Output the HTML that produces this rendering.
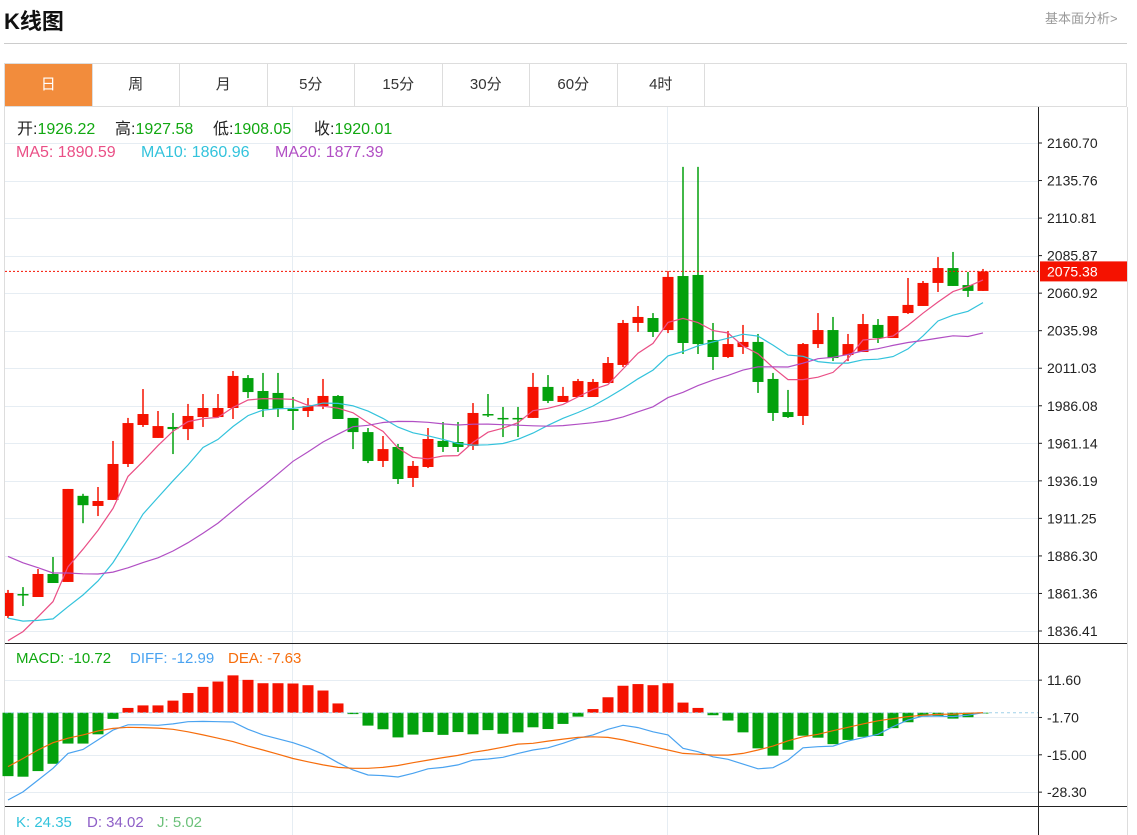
<!DOCTYPE html>
<html><head><meta charset="utf-8">
<style>
html,body{margin:0;padding:0;background:#fff;width:1137px;height:835px;overflow:hidden;font-family:"Liberation Sans","Noto Sans CJK SC",sans-serif;}
.title{position:absolute;left:4px;top:4px;font-size:22px;font-weight:bold;color:#111;}
.more{position:absolute;left:1045px;top:8px;font-size:13px;color:#999;}
.hr{position:absolute;left:4px;top:43px;width:1123px;height:1px;background:#ccc;}
.tabs{position:absolute;left:4px;top:63px;width:1123px;height:44px;border:1px solid #ddd;box-sizing:border-box;display:flex;}
.tab{width:87.5px;height:42px;line-height:42px;text-align:center;font-size:15px;color:#333;border-right:1px solid #ddd;box-sizing:border-box;}
.tab.on{background:#f28c3c;color:#fff;}
svg{position:absolute;left:0;top:0;}
</style></head><body>
<div class="title">K线图</div>
<div class="more">基本面分析&gt;</div>
<div class="hr"></div>
<div class="tabs">
<div class="tab on">日</div>
<div class="tab">周</div>
<div class="tab">月</div>
<div class="tab">5分</div>
<div class="tab">15分</div>
<div class="tab">30分</div>
<div class="tab">60分</div>
<div class="tab">4时</div>
</div>
<svg id="chart" width="1137" height="835" font-family="Liberation Sans, Noto Sans CJK SC, sans-serif"></svg>
<script>
const opens=[1846.4,1861.0,1859.0,1874.3,1869.0,1926.22,1919.5,1923.5,1947.4,1973.3,1964.7,1972.0,1970.6,1978.6,1978.6,1984.6,2004.5,1995.9,1994.6,1983.9,1982.6,1985.9,1992.6,1978.0,1968.6,1949.4,1958.7,1938.1,1945.4,1962.7,1962.0,1959.4,1980.6,1978.0,1978.0,1978.0,1998.6,1988.6,1991.9,1991.9,2001.2,2013.2,2041.1,2044.4,2036.4,2072.3,2073.0,2029.8,2018.5,2025.1,2028.5,2003.9,1981.9,1979.3,2027.1,2036.4,2019.8,2021.8,2039.8,2031.1,2047.7,2052.4,2067.7,2077.6,2066.3,2062.4];
const closes=[1861.7,1860.3,1874.3,1868.3,1930.8,1920.01,1922.8,1947.4,1974.6,1980.6,1972.6,1970.6,1979.3,1984.6,1984.6,2005.9,1995.2,1983.9,1983.9,1982.6,1985.9,1992.6,1977.3,1968.6,1949.4,1957.3,1937.4,1946.1,1964.0,1958.7,1958.7,1981.3,1979.9,1977.3,1977.0,1998.6,1989.3,1992.6,2002.5,2001.9,2014.5,2041.1,2045.1,2035.1,2071.7,2027.8,2027.1,2018.5,2027.1,2028.5,2001.9,1981.3,1978.6,2027.1,2036.4,2017.8,2027.1,2040.4,2031.1,2045.7,2053.1,2067.7,2077.6,2065.7,2062.4,2075.38];
const highs=[1863.7,1865.6,1877.6,1885.6,1930.8,1927.58,1932.1,1962.7,1978.0,1997.2,1982.6,1981.3,1987.3,1993.9,1993.9,2009.2,2006.5,2007.9,2007.9,1991.9,1991.2,2003.9,1993.2,1978.0,1971.3,1966.0,1960.7,1949.4,1971.3,1975.3,1975.3,1987.9,1993.9,1985.3,1985.3,2007.9,2006.5,1998.6,2003.9,2003.9,2018.5,2043.1,2052.4,2047.7,2075.6,2144.8,2144.8,2041.1,2035.8,2039.8,2033.8,2007.9,1996.6,2027.8,2047.7,2045.1,2033.8,2047.1,2043.7,2045.7,2071.0,2069.0,2084.9,2088.3,2075.0,2077.0];
const lows=[1845.0,1853.0,1859.0,1868.3,1869.0,1908.05,1912.8,1923.5,1945.4,1972.0,1964.7,1954.0,1963.3,1972.0,1978.0,1977.3,1991.2,1978.6,1978.6,1970.0,1978.6,1983.9,1977.3,1957.3,1948.0,1945.4,1934.1,1932.1,1944.7,1955.4,1955.4,1956.7,1978.6,1965.3,1965.3,1978.0,1987.9,1988.6,1991.9,1991.9,2001.2,2011.8,2035.1,2031.8,2034.4,2020.5,2020.5,2009.9,2017.8,2020.5,1994.6,1976.0,1978.0,1973.3,2024.5,2015.8,2015.8,2021.8,2027.8,2031.1,2047.1,2052.4,2061.7,2065.7,2058.4,2062.4];
const priorCloses=[1945,1940,1938,1932,1930,1925,1922,1918,1912,1908,1880,1870,1858,1850,1842,1830,1825,1818,1815];
const macdHist=[-22.6,-22.8,-20.8,-18.2,-11.0,-11.0,-7.7,-2.2,1.7,2.6,2.6,4.3,7.0,9.2,11.1,13.3,11.7,10.5,10.5,10.4,9.8,7.9,3.3,-0.5,-4.6,-5.9,-8.8,-7.8,-6.9,-7.9,-6.9,-7.7,-6.2,-7.5,-7.0,-5.2,-5.8,-4.0,-1.4,1.3,5.5,9.6,10.2,9.8,10.5,3.6,1.7,-0.9,-2.8,-7.0,-12.7,-15.3,-13.2,-8.2,-8.9,-11.2,-9.7,-8.6,-8.3,-5.5,-3.4,-1.4,-1.2,-2.1,-1.6,-0.3];
const diffLine=[-31.1,-28.2,-24.0,-19.8,-14.5,-13.1,-9.7,-6.2,-4.3,-4.3,-4.5,-4.0,-3.2,-3.1,-3.2,-3.3,-5.9,-7.9,-9.3,-10.7,-12.5,-14.8,-17.8,-20.4,-22.2,-22.4,-22.9,-21.6,-20.0,-19.5,-18.6,-16.9,-16.5,-15.9,-14.5,-13.3,-12.5,-10.9,-9.1,-7.9,-5.9,-4.5,-5.3,-6.8,-7.9,-12.7,-13.9,-15.7,-16.6,-18.3,-20.0,-19.6,-16.9,-12.5,-12.1,-11.9,-10.1,-8.9,-7.7,-5.0,-2.6,-1.2,-1.2,-1.4,-0.9,0];
const deaLine=[-19.2,-16.3,-13.3,-10.7,-9.1,-7.9,-6.5,-5.6,-5.2,-5.3,-5.5,-5.9,-6.8,-7.9,-9.1,-10.3,-11.9,-13.3,-14.8,-16.3,-17.5,-18.6,-19.5,-19.8,-19.8,-19.5,-18.8,-17.8,-16.9,-16.0,-15.2,-14.1,-13.3,-12.3,-11.2,-10.9,-10.1,-9.4,-8.8,-8.6,-8.8,-9.7,-10.9,-12.1,-13.3,-14.5,-14.8,-15.1,-15.1,-14.5,-13.3,-11.9,-10.0,-8.6,-7.7,-6.4,-5.2,-4.0,-2.9,-2.1,-1.4,-0.9,-0.6,-0.5,-0.2,0];
const priceTicks=["2160.70","2135.76","2110.81","2085.87","2060.92","2035.98","2011.03","1986.08","1961.14","1936.19","1911.25","1886.30","1861.36","1836.41"];
const macdTicks=["11.60","-1.70","-15.00","-28.30"];
const lastPrice=2075.38;

const NS="http://www.w3.org/2000/svg";
const svg=document.getElementById('chart');
function mk(tag,attrs,parent){const e=document.createElementNS(NS,tag);for(const k in attrs)e.setAttribute(k,attrs[k]);(parent||svg).appendChild(e);return e;}
const pTop=2160.70,pBot=1836.41,yTop=143,yBot=631;
function yP(p){return yTop+(pTop-p)*(yBot-yTop)/(pTop-pBot);}
function yM(v){return 712.7-v*(793-681)/(11.60+28.30);}
function xI(i){return 8+15*i;}
const RED="#f51200",GREEN="#03a10d";

let g=mk('g',{});

mk('line',{x1:4.5,y1:107,x2:4.5,y2:835,stroke:'#ddd'},g);
mk('line',{x1:1127.5,y1:107,x2:1127.5,y2:835,stroke:'#ddd'},g);
let grid=mk('g',{stroke:'#e6edf3','stroke-width':1});

priceTicks.forEach(t=>{const y=Math.round(yP(parseFloat(t)))+0.5;mk('line',{x1:5,y1:y,x2:1038,y2:y},grid);});
macdTicks.forEach(t=>{const y=Math.round(yM(parseFloat(t)))+0.5;mk('line',{x1:5,y1:y,x2:1038,y2:y},grid);});
[292.5,667.5].forEach(x=>mk('line',{x1:x,y1:107,x2:x,y2:835},grid));

function ma(n){const all=priorCloses.concat(closes);const off=priorCloses.length;return closes.map((c,i)=>{let s=0;for(let k=0;k<n;k++)s+=all[off+i-k];return s/n;});}
const clip=mk('clipPath',{id:'mainclip'});mk('rect',{x:5,y:108,width:1033,height:535},clip);
const main=mk('g',{'clip-path':'url(#mainclip)'});

closes.forEach((c,i)=>{
 const o=opens[i],up=c>=o,col=up?RED:GREEN,x=xI(i);
 const cg=mk('g',{},main);
 
 
 mk('line',{x1:x,y1:yP(highs[i]),x2:x,y2:yP(lows[i]),stroke:col,'stroke-width':1.5},cg);
 const t=yP(Math.max(o,c)),b=yP(Math.min(o,c));
 mk('rect',{x:x-5.5,y:t,width:11,height:Math.max(b-t,1.5),fill:col},cg);
});
[[5,'#ea4f86','ma5-line'],[10,'#33c3dc','ma10-line'],[20,'#b14fc4','ma20-line']].forEach(([n,col,name])=>{
 const v=ma(n);const p=mk('polyline',{points:v.map((m,i)=>xI(i)+','+yP(m).toFixed(1)).join(' '),fill:'none',stroke:col,'stroke-width':1.2},main);
 
 
});
const ly=yP(lastPrice);
const lpl=mk('line',{x1:5,y1:ly,x2:1040,y2:ly,stroke:RED,'stroke-dasharray':'2,2','stroke-width':1});


const mg=mk('g',{});

const y0=yM(0);
macdHist.forEach((v,i)=>{
 const r=mk('rect',{x:xI(i)-5.5,y:Math.min(y0,yM(v)),width:11,height:Math.max(Math.abs(yM(v)-y0),0.8),fill:v>=0?RED:GREEN},mg);
 
 
});
const zl=mk('line',{x1:5,y1:y0,x2:1038,y2:y0,stroke:'#9fd0e8','stroke-dasharray':'3,3'},mg);

const dl=mk('polyline',{points:diffLine.map((v,i)=>xI(i)+','+yM(v).toFixed(1)).join(' '),fill:'none',stroke:'#4aa3f0','stroke-width':1.2},mg);

const el=mk('polyline',{points:deaLine.map((v,i)=>xI(i)+','+yM(v).toFixed(1)).join(' '),fill:'none',stroke:'#f66d0c','stroke-width':1.2},mg);


const ax=mk('g',{stroke:'#222','stroke-width':1});

mk('line',{x1:1038.5,y1:107,x2:1038.5,y2:835},ax);
mk('line',{x1:5,y1:643.5,x2:1127,y2:643.5},ax);
mk('line',{x1:5,y1:806.5,x2:1127,y2:806.5},ax);
const yl=mk('g',{'font-size':14,fill:'#222'});

priceTicks.forEach(t=>{const y=yP(parseFloat(t));mk('line',{x1:1038,y1:y,x2:1042,y2:y,stroke:'#222'},yl);const tx=mk('text',{x:1047,y:y+5},yl);tx.textContent=t;});
const ml=mk('g',{'font-size':14,fill:'#222'});

macdTicks.forEach(t=>{const y=yM(parseFloat(t));mk('line',{x1:1038,y1:y,x2:1042,y2:y,stroke:'#222'},ml);const tx=mk('text',{x:1047,y:y+5},ml);tx.textContent=t;});
const tag=mk('g',{});

mk('rect',{x:1040,y:ly-10,width:87,height:20,fill:RED},tag);
const tt=mk('text',{x:1047,y:ly+5,'font-size':14,fill:'#fff'},tag);tt.textContent=lastPrice.toFixed(2);
</script>
<svg width="1137" height="835" style="pointer-events:none" font-family="Liberation Sans, Noto Sans CJK SC, sans-serif" font-size="16">
<g>
<text x="17" y="134"><tspan fill="#222">开:</tspan><tspan fill="#11a811">1926.22</tspan></text>
<text x="115" y="134"><tspan fill="#222">高:</tspan><tspan fill="#11a811">1927.58</tspan></text>
<text x="213" y="134"><tspan fill="#222">低:</tspan><tspan fill="#11a811">1908.05</tspan></text>
<text x="314" y="134"><tspan fill="#222">收:</tspan><tspan fill="#11a811">1920.01</tspan></text>
</g>
<g>
<text x="16" y="157" fill="#ea4f86">MA5: 1890.59</text>
<text x="141" y="157" fill="#33c3dc">MA10: 1860.96</text>
<text x="275" y="157" fill="#b14fc4">MA20: 1877.39</text>
</g>
<g font-size="15">
<text x="16" y="663" fill="#11a811">MACD: -10.72</text>
<text x="130" y="663" fill="#4aa3f0">DIFF: -12.99</text>
<text x="228" y="663" fill="#f66d0c">DEA: -7.63</text>
</g>
<g font-size="15">
<text x="16" y="827" fill="#33c3dc">K: 24.35</text>
<text x="87" y="827" fill="#8e5fc7">D: 34.02</text>
<text x="157" y="827" fill="#6cc17a">J: 5.02</text>
</g>
</svg>
</body></html>
